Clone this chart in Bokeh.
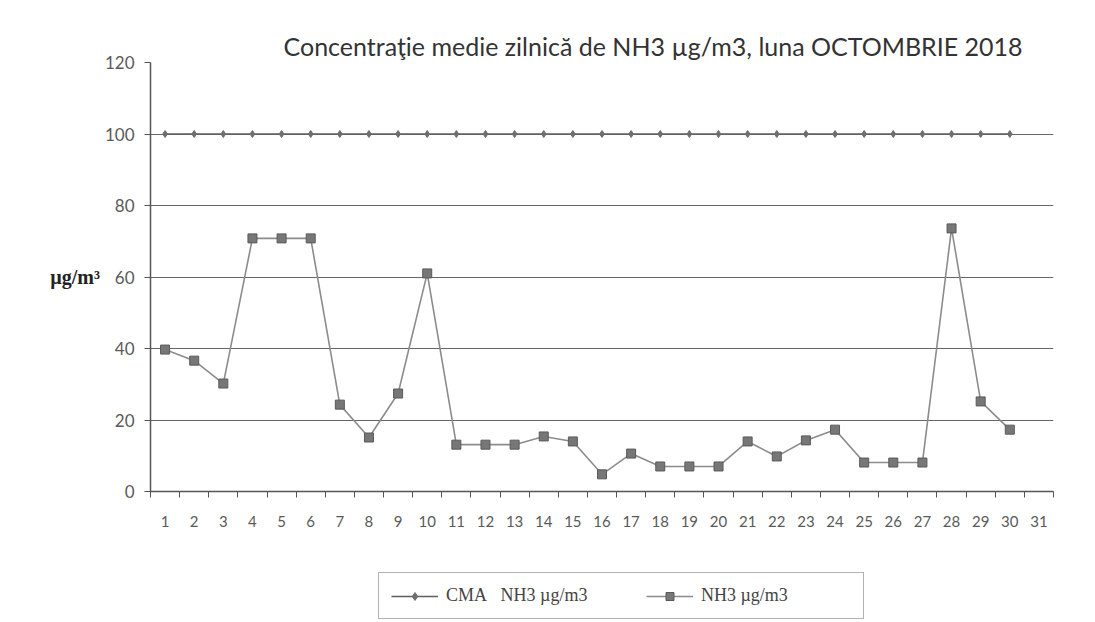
from bokeh.plotting import figure
from bokeh.models import FixedTicker, Legend, LegendItem, Range1d
from bokeh.layouts import column
from bokeh.embed import file_html
from bokeh.resources import INLINE

days = [1, 2, 3, 4, 5, 6, 7, 8, 9, 10, 11, 12, 13, 14, 15, 16, 17, 18, 19, 20,
        21, 22, 23, 24, 25, 26, 27, 28, 29, 30]
nh3 = [39.7, 36.6, 30.2, 70.8, 70.8, 70.8, 24.3, 15.1, 27.4, 61.0,
       13.1, 13.1, 13.1, 15.4, 14.0, 4.8, 10.6, 7.0, 7.0, 7.0,
       14.0, 9.8, 14.3, 17.3, 8.1, 8.1, 8.1, 73.6, 25.2, 17.3]
cma = [100, 100, 100, 100, 100, 100, 100, 100, 100, 100,
       100, 100, 100, 100, 100, 100, 100, 100, 100, 100,
       100, 100, 100, 100, 100, 100, 100, 100, 100, 100]
x_ticks = list(range(1, 32))
y_ticks = [0, 20, 40, 60, 80, 100, 120]
grid_ticks = [20, 40, 60, 80, 100]

title_text = "Concentraţie medie zilnică de NH3 µg/m3, luna OCTOMBRIE 2018"
cma_label = "CMA\u00a0\u00a0\u00a0NH3\u00a0µg/m3"
nh3_label = "NH3\u00a0µg/m3"
ylabel_text = "µg/m³"

CMA_COLOR = "#665c5c"
CMA_MARK = "#6e6e6e"
NH3_LINE = "#8c8c8c"
NH3_FILL = "#777777"
AXIS = "#555555"
W = 1093

p = figure(width=W, height=560, x_range=Range1d(0.5, 31.5), y_range=Range1d(0, 120),
           output_backend="svg", toolbar_location=None,
           min_border_left=150, min_border_right=W - 1053, min_border_top=62, min_border_bottom=69)
p.outline_line_color = None
p.background_fill_color = "white"
p.border_fill_color = "white"

# title
p.title.text = title_text
p.title.align = "left"
p.title.offset = 133
p.title.text_font = "Lato"
p.title.text_font_size = "25px"
p.title.text_font_style = "normal"
p.title.text_color = "#333333"
p.title.standoff = 4

# grid
p.xgrid.visible = False
p.ygrid.ticker = FixedTicker(ticks=grid_ticks)
p.ygrid.grid_line_color = "#666666"
p.ygrid.grid_line_width = 1.2

# x axis
p.xaxis.ticker = FixedTicker(ticks=x_ticks, minor_ticks=[t - 0.5 for t in x_ticks] + [x_ticks[-1] + 0.5])
p.xaxis.major_tick_line_color = None
p.xaxis.major_tick_out = 0
p.xaxis.major_tick_in = 0
p.xaxis.minor_tick_out = 6
p.xaxis.minor_tick_in = 0
p.xaxis.minor_tick_line_color = AXIS
p.xaxis.axis_line_color = AXIS
p.xaxis.axis_line_width = 1.5
p.xaxis.major_label_standoff = 18
p.xaxis.major_label_text_font = "Lato"
p.xaxis.major_label_text_font_size = "15px"
p.xaxis.major_label_text_color = "#5a5a5a"

# y axis
p.yaxis.ticker = FixedTicker(ticks=y_ticks)
p.yaxis.minor_tick_line_color = None
p.yaxis.major_tick_out = 6
p.yaxis.major_tick_in = 0
p.yaxis.major_tick_line_color = AXIS
p.yaxis.axis_line_color = AXIS
p.yaxis.axis_line_width = 1.5
p.yaxis.major_label_standoff = 10
p.yaxis.major_label_text_font = "Lato"
p.yaxis.major_label_text_font_size = "17px"
p.yaxis.major_label_text_color = "#5a5a5a"
p.yaxis.axis_label = ylabel_text
p.yaxis.axis_label_orientation = "horizontal"
p.yaxis.axis_label_text_font = "Liberation Serif"
p.yaxis.axis_label_text_font_size = "20px"
p.yaxis.axis_label_text_font_style = "bold"
p.yaxis.axis_label_text_color = "#222222"
p.yaxis.axis_label_standoff = 2

# series
p.line(days, cma, line_color=CMA_COLOR, line_width=1.5)
p.scatter(days, cma, marker="diamond", size=7, fill_color=CMA_MARK, line_color=CMA_MARK)
p.line(days, nh3, line_color=NH3_LINE, line_width=1.6)
p.scatter(days, nh3, marker="square", size=9, fill_color=NH3_FILL, line_color="#5a5a5a")

# legend strip (separate small figure below; its renderers lie outside its visible range)
q = figure(width=W, height=60, x_range=Range1d(-10, -9), y_range=Range1d(-10, -9),
           output_backend="svg", toolbar_location=None, x_axis_type=None, y_axis_type=None,
           min_border_left=0, min_border_right=0, min_border_top=0, min_border_bottom=0)
q.outline_line_color = None
q.xgrid.visible = False
q.ygrid.visible = False
q.border_fill_color = "white"
l1 = q.line(days, cma, line_color=CMA_COLOR, line_width=1.5)
s1 = q.scatter(days, cma, marker="diamond", size=7, fill_color=CMA_MARK, line_color=CMA_MARK)
l2 = q.line(days, nh3, line_color=NH3_LINE, line_width=1.6)
s2 = q.scatter(days, nh3, marker="square", size=9, fill_color=NH3_FILL, line_color="#5a5a5a")

legend = Legend(items=[LegendItem(label=cma_label, renderers=[l1, s1]),
                       LegendItem(label=nh3_label, renderers=[l2, s2])],
                orientation="horizontal", location=(228, 1),
                padding=12, margin=0, spacing=50, glyph_width=47, glyph_height=20,
                label_width=150, label_standoff=8,
                label_text_font="Liberation Serif", label_text_font_size="18px",
                label_text_color="#444444", border_line_color="#666666", border_line_width=1.2,
                background_fill_alpha=0)
q.add_layout(legend, "center")

open("out.html", "w").write(file_html(column(p, q, spacing=0), INLINE))
